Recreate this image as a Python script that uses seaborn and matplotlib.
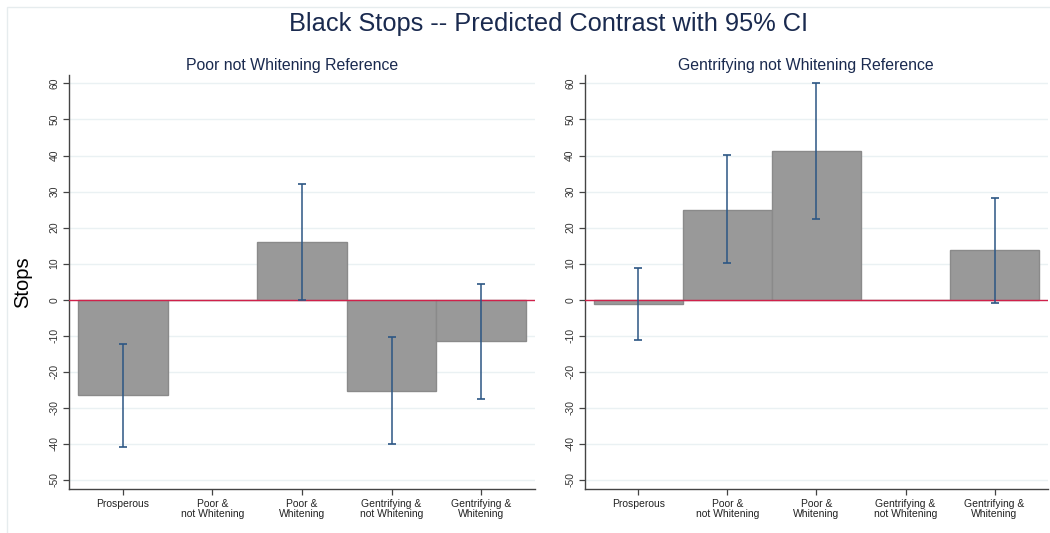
import numpy as np
import pandas as pd
import matplotlib
matplotlib.use("Agg")
import matplotlib.pyplot as plt
import seaborn as sns
from matplotlib.patches import Rectangle

categories = ["Prosperous", "Poor &\nnot Whitening", "Poor &\nWhitening",
              "Gentrifying &\nnot Whitening", "Gentrifying &\nWhitening"]

left_est = [-26.5, 0.0, 16.0, -25.2, -11.5]
left_lo = [-40.8, 0.0, 0.0, -40.0, -27.5]
left_hi = [-12.3, 0.0, 32.0, -10.3, 4.4]

right_est = [-1.2, 25.0, 41.2, 0.0, 13.7]
right_lo = [-11.2, 10.2, 22.4, 0.0, -0.9]
right_hi = [8.7, 40.2, 60.2, 0.0, 28.3]

panel_titles = ["Poor not Whitening Reference", "Gentrifying not Whitening Reference"]
ref_index = [1, 3]
yticks = [-50, -40, -30, -20, -10, 0, 10, 20, 30, 40, 50, 60]

sns.set_style("white")
plt.rcParams["font.family"] = ["Liberation Sans", "DejaVu Sans"]

NAVY = "#1a2a4f"
fig = plt.figure(figsize=(10.5, 5.33), dpi=100)
ax1 = fig.add_axes([0.0657, 0.0826, 0.4438, 0.7764])
ax2 = fig.add_axes([0.5571, 0.0826, 0.4410, 0.7764])

# faint outer frame like Stata graph region
fig.patches.append(Rectangle((0.007, -0.01), 1.0, 0.997, transform=fig.transFigure,
                             fill=False, edgecolor="#e6ecee", linewidth=1.0))

for ax, est, lo, hi, title, ref in zip([ax1, ax2], [left_est, right_est],
                                       [left_lo, right_lo], [left_hi, right_hi],
                                       panel_titles, ref_index):
    df = pd.DataFrame({"cat": categories, "est": est})
    for y in yticks:
        ax.axhline(y, color="#eaf1f3", linewidth=1.0, zorder=0)
    sns.barplot(data=df, x="cat", y="est", ax=ax, width=1.0, color="#999999",
                saturation=1, edgecolor="#8a8a8a", linewidth=1.0, zorder=2)
    xs = np.arange(len(categories))
    mask = np.array([i != ref for i in range(len(categories))])
    e = np.array(est)
    yerr = np.vstack([e - np.array(lo), np.array(hi) - e])
    ax.errorbar(xs[mask], e[mask], yerr=yerr[:, mask], fmt="none",
                ecolor="#2c5684", elinewidth=1.1, capsize=2.8, capthick=1.2, zorder=4)
    ax.axhline(0, color="#d0214a", linewidth=1.0, zorder=3)
    ax.set_xlim(-0.6, 4.6)
    ax.set_ylim(-52.5, 62.3)
    ax.set_yticks(yticks)
    ax.set_yticklabels([str(t) for t in yticks], rotation=90, va="center", fontsize=7.5,
                       color="#333333")
    ax.set_xticks(xs)
    ax.set_xticklabels(categories, fontsize=7.5, color="#222222", linespacing=1.0)
    ax.tick_params(axis="both", length=4, width=0.9, color="#444444", direction="out",
                   bottom=True, left=True, pad=3)
    ax.set_xlabel("")
    ax.set_ylabel("")
    ax.set_title(title, fontsize=11.4, color=NAVY, pad=4, x=0.478)
    for s in ["top", "right"]:
        ax.spines[s].set_visible(False)
    for s in ["left", "bottom"]:
        ax.spines[s].set_color("#444444")
        ax.spines[s].set_linewidth(1.0)

ax1.set_ylabel("Stops", fontsize=14.5, color="black", labelpad=12)
fig.text(0.522, 0.955, "Black Stops -- Predicted Contrast with 95% CI", ha="center",
         va="center", fontsize=18.3, color=NAVY)

fig.savefig("out.png", dpi=100, facecolor="white")
